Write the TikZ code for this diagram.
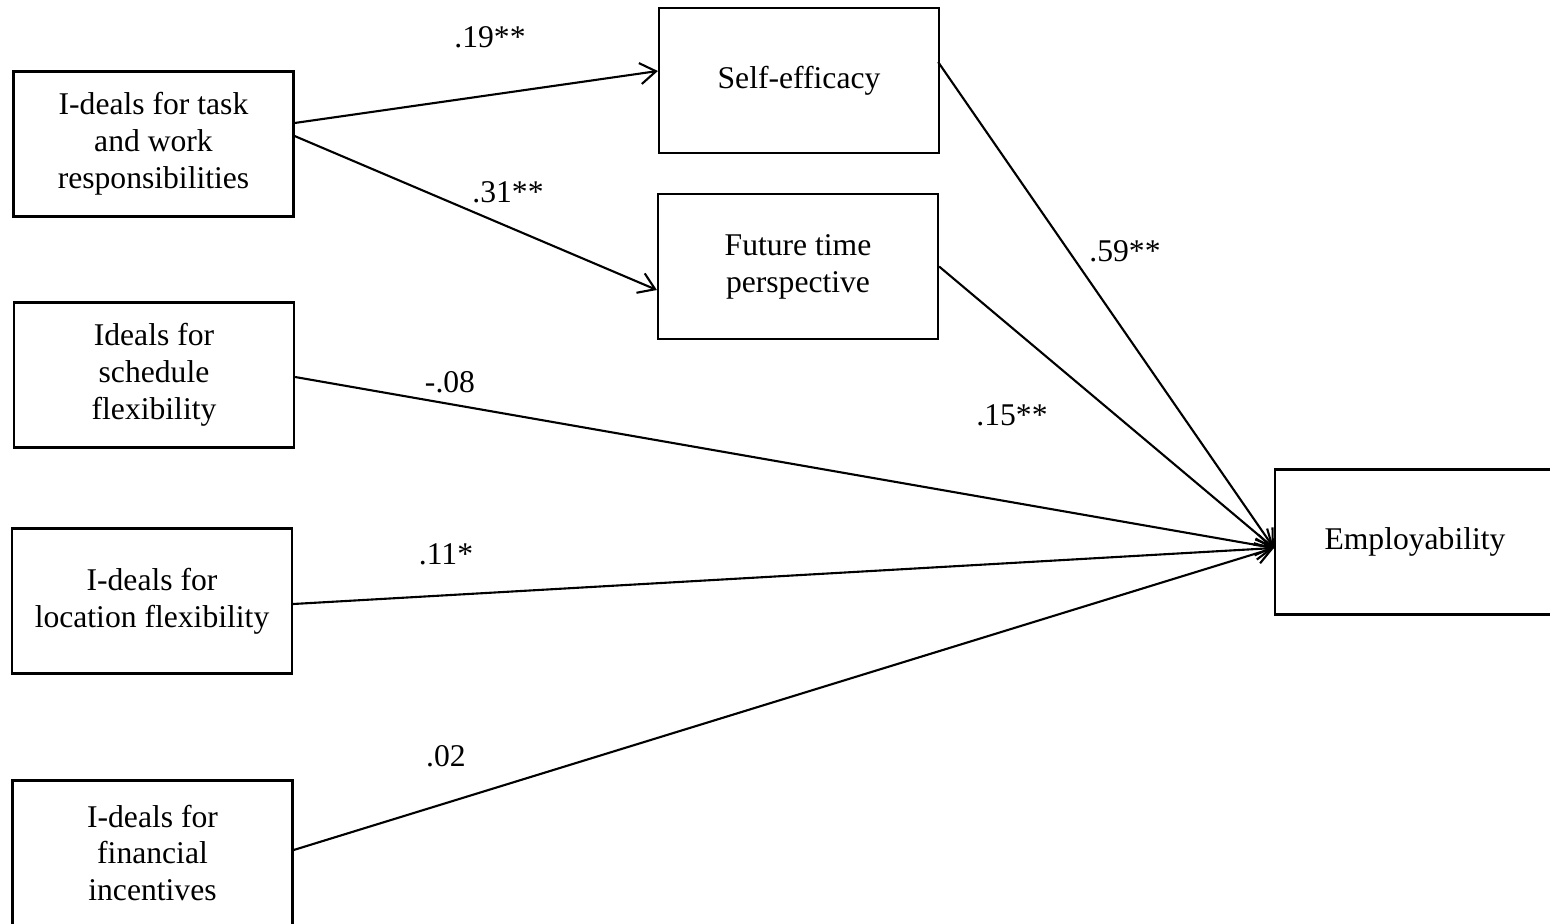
\documentclass[tikz,border=0pt]{standalone}
\usepackage{fontspec}
\setmainfont{Liberation Serif}
\usetikzlibrary{arrows.meta}

\begin{document}
\begin{tikzpicture}[x=0.02cm,y=-0.02cm,
		BoxStyle/.style = {draw=black,line width=1.3pt,shape=rectangle,minimum width=5.6cm,minimum height=2.9cm,inner sep=0pt,align=center,font=\fontsize{18}{21}\selectfont},
		LabelStyle/.style = {inner sep=0pt,font=\fontsize{18}{21}\selectfont},
		EdgeStyle/.style = {line width=1.2pt,-{Straight Barb[length=9pt,width=12pt,line width=1.2pt]}}]
		\clip (0,0) rectangle (1550,923);
		% predictors
		\node[BoxStyle] (task) at (153.5,144) {I-deals for task\\and work\\responsibilities};
		\node[BoxStyle] (sched) at (154,375) {Ideals for\\schedule\\flexibility};
		\node[BoxStyle] (loc) at (152,601) {I-deals for\\location flexibility};
		\node[BoxStyle] (fin) at (152.5,853) {I-deals for\\financial\\incentives};
		% mediators
		\node[BoxStyle] (self) at (799,80.5) {Self-efficacy};
		\node[BoxStyle] (future) at (798,266.5) {Future time\\perspective};
		% outcome
		\node[BoxStyle] (emp) at (1415,542) {Employability};
		\coordinate (empin) at ([yshift=-0.12cm]emp.west);
		{
			\tikzset{every path/.style = {EdgeStyle}}
			\draw ([yshift=0.42cm]task.east) -- (self.west |- 0,71);
			\draw ([yshift=0.16cm]task.east) -- (future.west |- 0,290);
			\draw ([yshift=0.37cm,xshift=-0.04cm]self.east) -- (empin);
			\draw (future.east) -- (empin);
			\draw ([yshift=-0.04cm]sched.east) -- (empin);
			\draw ([yshift=-0.06cm]loc.east) -- (empin);
			\draw ([yshift=0.06cm]fin.east) -- (empin);
		}
		% path coefficients
		\node[LabelStyle] (l1) at (490,37) {.19**};
		\node[LabelStyle] (l2) at (508,192) {.31**};
		\node[LabelStyle] (l3) at (1125,251) {.59**};
		\node[LabelStyle] (l4) at (1012,415) {.15**};
		\node[LabelStyle] (l5) at (450,382) {-.08};
		\node[LabelStyle] (l6) at (446,554) {.11*};
		\node[LabelStyle] (l7) at (446,756) {.02};
	\end{tikzpicture}
\end{document}
